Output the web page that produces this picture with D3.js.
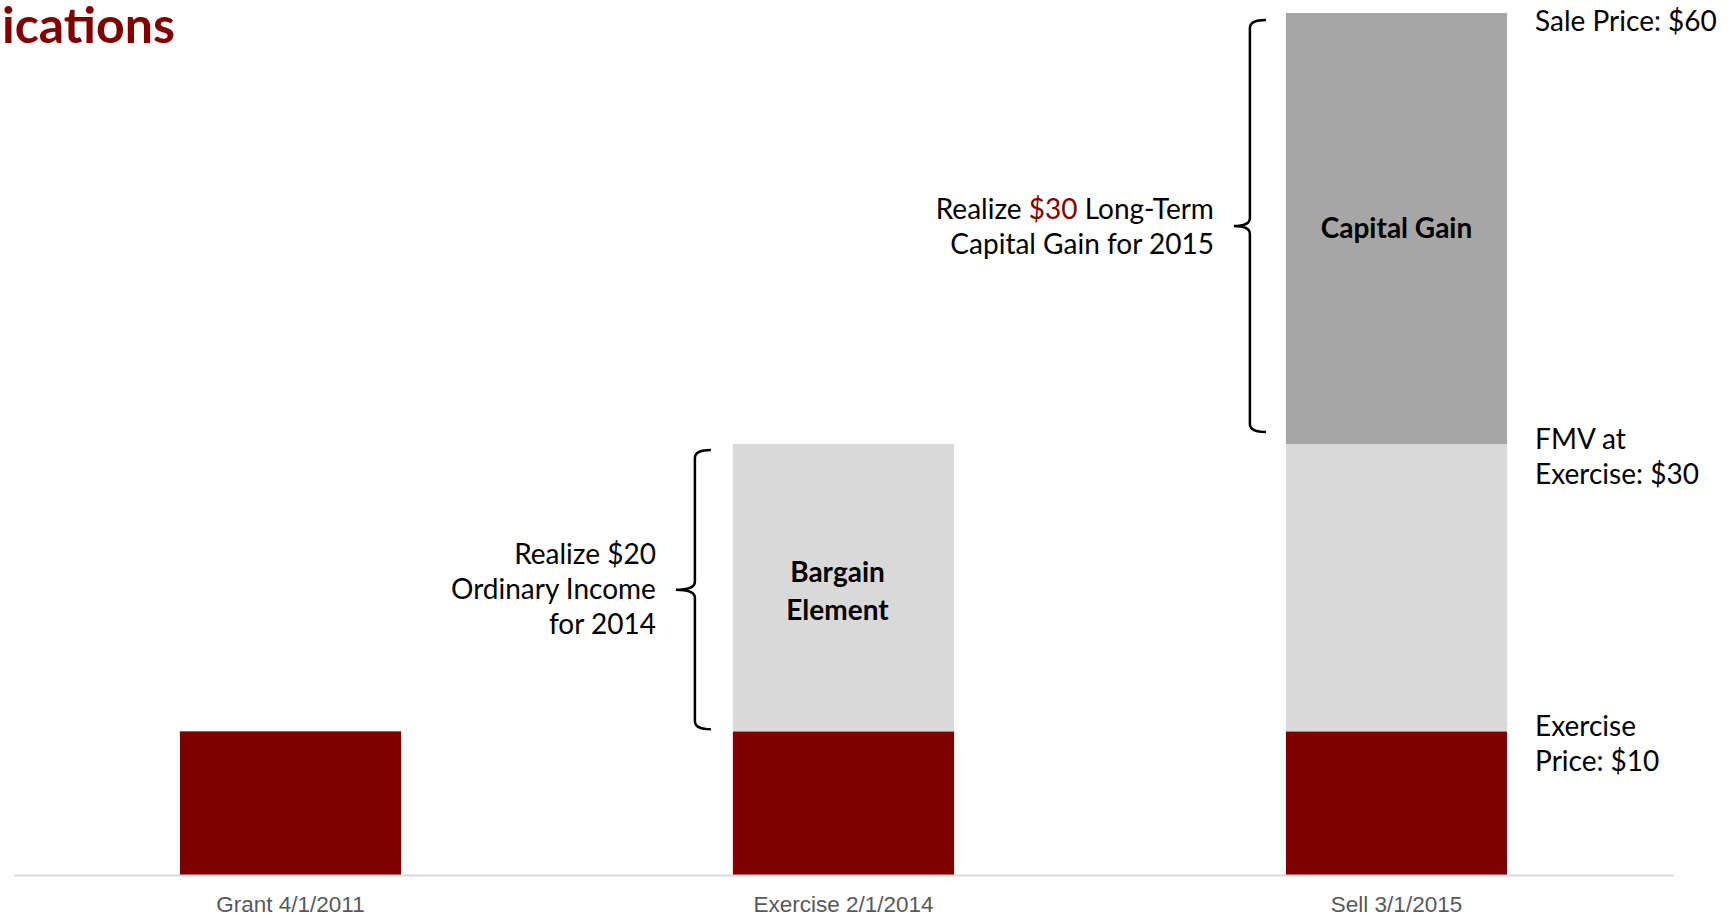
<!DOCTYPE html>
<html>
<head>
<meta charset="utf-8">
<script src="https://cdn.jsdelivr.net/npm/d3@7"></script>
<style>
  html, body { margin: 0; padding: 0; background: #ffffff; }
  svg { display: block; font-family: Lato, "Open Sans", sans-serif; }
</style>
</head>
<body>
<svg id="chart" width="1732" height="916"></svg>
<script>
// Stock option timeline: price components at grant, exercise and sale
const categories = ["Grant 4/1/2011", "Exercise 2/1/2014", "Sell 3/1/2015"];
const exercisePrice = [10, 10, 10];
const bargainElement = [0, 20, 20];
const capitalGain = [0, 0, 30];
const seriesKeys = ["exercisePrice", "bargainElement", "capitalGain"];
const seriesColors = ["#800000", "#d9d9d9", "#a6a6a6"];

const W = 1732, H = 916;
const svg = d3.select("#chart");
svg.append("rect").attr("width", W).attr("height", H).attr("fill", "#ffffff");

const x = d3.scaleBand().domain(categories).range([14, 1673]).paddingInner(0.6).paddingOuter(0.3);
const y = d3.scaleLinear().domain([0, 60]).range([875, 13]);

const rows = categories.map((c, i) => ({
  category: c,
  exercisePrice: exercisePrice[i],
  bargainElement: bargainElement[i],
  capitalGain: capitalGain[i]
}));
const stacked = d3.stack().keys(seriesKeys)(rows);

// Stacked bars
svg.append("g").selectAll("g")
  .data(stacked)
  .join("g")
  .attr("fill", (d, i) => seriesColors[i])
  .selectAll("rect")
  .data(d => d.filter(s => s[1] > s[0]))
  .join("rect")
  .attr("x", d => x(d.data.category))
  .attr("y", d => y(d[1]))
  .attr("width", x.bandwidth())
  .attr("height", d => y(d[0]) - y(d[1]));

// Baseline axis
const xAxis = d3.axisBottom(x).tickSize(0).tickPadding(0);
const axisG = svg.append("g").attr("transform", `translate(0,${y(0)})`).call(xAxis);
axisG.select(".domain").attr("stroke", "#d9d9d9").attr("stroke-width", 2);
axisG.selectAll(".tick text")
  .attr("fill", "#595959")
  .attr("font-size", 22.5)
  .attr("dy", null)
  .attr("y", 37);

// Title fragment
svg.append("text")
  .attr("x", 2).attr("y", 43)
  .attr("fill", "#800000")
  .attr("font-size", 50)
  .attr("font-weight", 700)
  .text("ications");

// Curly bracket: vertical stroke at x0, hooks toward x1, point toward xt
function bracketPath(x0, x1, xt, yTop, yBot) {
  const ym = (yTop + yBot) / 2;
  const r = 8;
  return [
    `M${x1},${yTop}`,
    `Q${x0},${yTop} ${x0},${yTop + r}`,
    `L${x0},${ym - 8}`,
    `Q${x0},${ym} ${xt},${ym}`,
    `Q${x0},${ym} ${x0},${ym + 8}`,
    `L${x0},${yBot - r}`,
    `Q${x0},${yBot} ${x1},${yBot}`
  ].join(" ");
}

const bx2 = x(categories[1]);
const bx3 = x(categories[2]);
svg.append("path")
  .attr("d", bracketPath(bx2 - 38, bx2 - 22, bx2 - 57, y(30) + 6, y(10) - 2))
  .attr("fill", "none").attr("stroke", "#000").attr("stroke-width", 2.5);
svg.append("path")
  .attr("d", bracketPath(bx3 - 36, bx3 - 20, bx3 - 52, y(60) + 7, y(30) - 12))
  .attr("fill", "none").attr("stroke", "#000").attr("stroke-width", 2.5);

// Multi-line text helper
function lines(xPos, yPos, anchor, arr, opts = {}) {
  const t = svg.append("text")
    .attr("x", xPos).attr("y", yPos)
    .attr("text-anchor", anchor)
    .attr("font-size", opts.size || 28)
    .attr("font-weight", opts.weight || 400)
    .attr("fill", "#000");
  arr.forEach((ln, i) => {
    const ts = t.append("tspan").attr("x", xPos).attr("dy", i === 0 ? 0 : (opts.lh || 35));
    if (Array.isArray(ln)) {
      ln.forEach(part => ts.append("tspan").attr("fill", part.color || "#000").text(part.t));
    } else {
      ts.text(ln);
    }
  });
  return t;
}

// Bracket annotations
lines(bx2 - 77, 564, "end", ["Realize $20", "Ordinary Income", "for 2014"]);
lines(bx3 - 72, 219, "end", [
  [{t: "Realize "}, {t: "$30", color: "#800000"}, {t: " Long-Term"}],
  "Capital Gain for 2015"
]);

// Labels inside bars
const c2 = bx2 + x.bandwidth() / 2;
const c3 = bx3 + x.bandwidth() / 2;
lines(c3, 238, "middle", ["Capital Gain"], {weight: 700, size: 28});
lines(c2 - 6, 582, "middle", ["Bargain", "Element"], {weight: 700, size: 28, lh: 38});

// Price labels to the right of the last bar
const rx = bx3 + x.bandwidth() + 28;
lines(rx, y(60) + 18, "start", ["Sale Price: $60"]);
lines(rx, y(30) + 5, "start", ["FMV at", "Exercise: $30"]);
lines(rx, y(10) + 5, "start", ["Exercise", "Price: $10"]);
</script>
</body>
</html>
